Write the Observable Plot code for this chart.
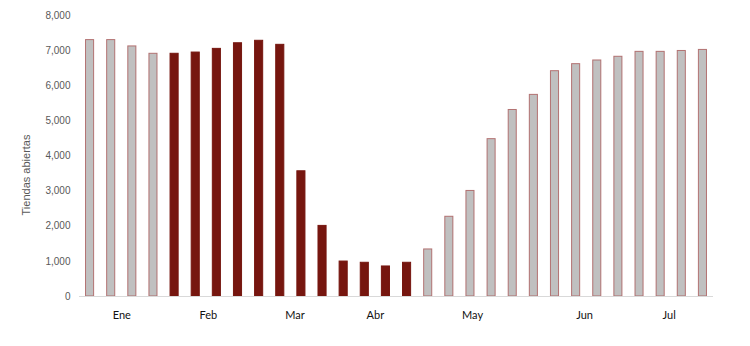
<!DOCTYPE html>
<html>
<head>
<meta charset="utf-8">
<script src="https://cdn.jsdelivr.net/npm/d3@7"></script>
<script src="https://cdn.jsdelivr.net/npm/@observablehq/plot@0.6"></script>
<style>
  html, body { margin: 0; padding: 0; background: #fff; }
  #chart { width: 750px; height: 346px; }
</style>
</head>
<body>
<div id="chart"></div>
<script>
// Weekly count of open stores (30 weeks)
const values = [7300, 7300, 7120, 6910, 6910, 6945, 7050, 7210, 7280, 7165,
                3565, 2010, 995, 960, 855, 960, 1340, 2270, 3005, 4480,
                5310, 5740, 6415, 6615, 6720, 6825, 6965, 6965, 6990, 7020];
// Phase of each week: "normal" (gray) or "cierre" (dark red)
const phases = ["normal","normal","normal","normal",
                "cierre","cierre","cierre","cierre","cierre","cierre",
                "cierre","cierre","cierre","cierre","cierre","cierre",
                "normal","normal","normal","normal","normal","normal","normal",
                "normal","normal","normal","normal","normal","normal","normal"];
// Month labels and their positions (in week index units)
const monthLabels = ["Ene", "Feb", "Mar", "Abr", "May", "Jun", "Jul"];
const monthPos = [1.5, 5.6, 9.7, 13.5, 18.1, 23.4, 27.4];
const yTicks = [0, 1000, 2000, 3000, 4000, 5000, 6000, 7000, 8000];

const data = values.map((v, i) => ({i, v, phase: phases[i]}));
const half = 0.215;
const fmt = d3.format(",");

const chart = Plot.plot({
  width: 750,
  height: 346,
  marginLeft: 79,
  marginRight: 37,
  marginTop: 15,
  marginBottom: 50,
  style: {background: "#fff", overflow: "visible"},
  x: {domain: [-0.5, 29.5], axis: null},
  y: {domain: [0, 8000], axis: null},
  color: {domain: ["normal", "cierre"], range: ["#c0c0c0", "#76160f"]},
  marks: [
    Plot.rectY(data, {
      x1: d => d.i - half, x2: d => d.i + half, y1: 0, y2: "v",
      fill: "phase",
      stroke: d => d.phase === "normal" ? "#a85858" : "#76160f",
      strokeWidth: 1,
      strokeOpacity: d => d.phase === "normal" ? 0.8 : 1,
      insetLeft: 0.5, insetRight: 0.5
    }),
    Plot.ruleY([0], {stroke: "#d9d9d9", strokeWidth: 1}),
    Plot.axisY({
      ticks: yTicks, tickSize: 0, tickPadding: 9, tickFormat: fmt,
      label: null, fontSize: 10, fill: "#595959",
      fontFamily: "Liberation Sans, Arial, sans-serif"
    }),
    Plot.axisX({
      ticks: monthPos, tickSize: 0, tickPadding: 15,
      tickFormat: (d, k) => monthLabels[k],
      label: null, fontSize: 11, fill: "#111",
      fontFamily: "Lato, sans-serif"
    }),
    Plot.text(["Tiendas abiertas"], {
      frameAnchor: "left", textAnchor: "middle", dx: -53, dy: 19, rotate: -90,
      fontSize: 11, fill: "#595959",
      fontFamily: "Liberation Sans, Arial, sans-serif"
    })
  ]
});
document.getElementById("chart").appendChild(chart);
</script>
</body>
</html>
